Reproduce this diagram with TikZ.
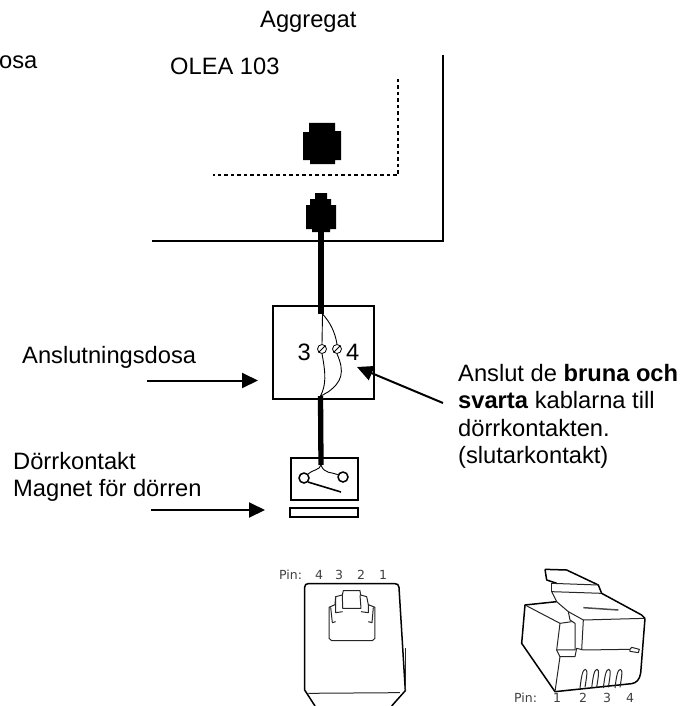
\documentclass[tikz,border=0pt]{standalone}
\usepackage{fontspec}
\setmainfont{Liberation Sans}
\newfontfamily\pinfont{DejaVu Sans}
\usetikzlibrary{shapes,arrows.meta,positioning}

\tikzset{
    label/.style={anchor=base west, inner sep=0pt, font=\fontsize{23.7}{27.4}\selectfont},
    pinlabel/.style={inner sep=0pt, text=black!75, font=\pinfont\fontsize{12.5}{13}\selectfont},
    frame/.style={line width=1.3pt},
    hatchdot/.style={line width=1.6pt, dash pattern=on 3.5pt off 3pt},
    cable/.style={line width=5.3pt},
    wire/.style={line width=0.9pt},
    pointer/.style={line width=2pt, -{Triangle[length=16pt,width=15pt]}},
    screw/.style={circle, draw, line width=0.8pt, minimum size=9pt, inner sep=0pt},
    term/.style={circle, draw, line width=1.5pt, minimum size=10pt, inner sep=0pt},
    digit/.style={inner sep=0pt, font=\fontsize{23.7}{24}\selectfont},
    sketch/.style={line width=1pt, line join=round, black!85},
    sketchbold/.style={line width=1.5pt, line join=round},
}

\begin{document}
\begin{tikzpicture}[x=1pt, y=-1pt]
    \useasboundingbox (0,0) rectangle (695,706);

    \node (aggregat) [label] at (260,28) {Aggregat};
    \node (dosatext) [label] at (-1,69) {osa};
    \node (olea) [label] at (170,75) {OLEA 103};
    \node (anslutning) [label] at (22,363) {Anslutningsdosa};
    \node (dorrtext) [label] at (13,469) {Dörrkontakt};
    \node (magnettext) [label] at (13,496) {Magnet för dörren};
    \node (anslut) [label, align=left, anchor=north west] at (458,364) {Anslut de \textbf{bruna och}\\\textbf{svarta} kablarna till\\dörrkontakten.\\(slutarkontakt)};

    % aggregat frame and inner dotted part
    \draw [frame] (443,55) -- (443,241) -- (152,241);
    \draw [hatchdot] (398,79) -- (398,175) -- (213,175);

    % jack and plug
    \fill (303,132) -- (309,132) -- (309,123) -- (335,123) -- (335,131) -- (341,131) -- (341,160) -- (335,160) -- (335,164) -- (310,164) -- (310,160) -- (303,160) -- cycle;
    \fill (315,193) -- (327,193) -- (327,199) -- (331,199) -- (331,205) -- (336,205) -- (336,229) -- (330,229) -- (330,232) -- (312,232) -- (312,229) -- (306,229) -- (306,205) -- (310,205) -- (310,199) -- (315,199) -- cycle;
    \coordinate (plugfoot) at (321,231);

    % boxes
    \node (dosa) [rectangle, draw, line width=1.3pt, minimum width=101pt, minimum height=93pt] at (323.5,352.5) {};
    \node (kontakt) [rectangle, draw, line width=1.3pt, minimum width=67pt, minimum height=42pt] at (324.5,479) {};
    \node (magnet) [rectangle, draw, line width=1.3pt, minimum width=68pt, minimum height=9pt] at (324,512.5) {};

    % screws and numbers
    \node (screwthree) [screw] at (322,349) {};
    \node (screwfour) [screw] at (337,349) {};
    \draw [wire] (screwthree.north east) -- (screwthree.south west);
    \draw [wire] (screwfour.north east) -- (screwfour.south west);
    \node (three) [digit, left=6pt of screwthree, yshift=-3pt] {3};
    \node (four) [digit, right=4pt of screwfour, yshift=-3pt] {4};

    % cables
    \coordinate (cabletop) at (321,314);
    \coordinate (cablemid) at (320.5,396);
    \coordinate (cableend) at (321,465);
    \draw [cable] (plugfoot) -- (cabletop);
    \draw [cable] (cablemid) -- (cableend);

    % wires inside the boxes
    \draw [wire] (cabletop) ++(1.5,0) -- (screwthree.north);
    \draw [wire] (screwthree.south) .. controls (326,375) and (326,385) .. (cablemid);
    \draw [wire] (cabletop) ++(1.5,0) .. controls (330,322) and (335,332) .. (screwfour.north);
    \draw [wire] (screwfour.south) .. controls (345,372) and (342,382) .. (328,392) .. controls (324,394) and (322,396) .. (cablemid);

    % door contact
    \node (termleft) [term] at (304,478) {};
    \node (termright) [term] at (343,477) {};
    \draw [wire] (cableend) .. controls (320,470) and (312,470) .. (termleft);
    \draw [wire] (cableend) .. controls (324,474) and (332,472) .. (termright);
    \coordinate (switchend) at (341,492);
    \draw [line width=1.6pt] (termleft.south east) -- (switchend);

    % arrows
    \coordinate (dosafrom) at (147,380.5);
    \coordinate (dosatip) at (258,380.5);
    \coordinate (magnetfrom) at (151,510);
    \coordinate (magnettip) at (265,510);
    \coordinate (ansluttail) at (443,403);
    \coordinate (anslutpin) at (357,367);
    \draw [pointer] (dosafrom) -- (dosatip);
    \draw [pointer] (magnetfrom) -- (magnettip);
    \draw [pointer] (ansluttail) -- (anslutpin);

    % jack seen from the front
    \node (pinjack) [pinlabel, anchor=west] at (279,575) {Pin:};
    \foreach \pinname/\pinx in {4/319, 3/339, 2/361, 1/383}
        \node (jack\pinname) [pinlabel] at (\pinx,575) {\pinname};
    \begin{scope}[shift={(300,570)}, x=0.3333pt, y=-0.3333pt]
        \draw [sketchbold] (45,408) -- (14,360) -- (14,52) .. controls (14,44) and (18,41) .. (25,41) -- (285,41) .. controls (292,41) and (296,44) .. (297,52) -- (316,362) -- (275,408);
        \draw [sketch] (25,370) -- (300,368);
        \draw [sketch] (316,235) -- (316,362);
        \draw [sketch] (87,112) -- (87,205) -- (95,212) -- (217,212) -- (225,205) -- (225,112) -- (205,104) -- (200,80) -- (182,75) -- (180,62) -- (130,62) -- (127,75) -- (107,80) -- (105,104) -- cycle;
        \draw [sketch] (127,75) -- (128,115) -- (183,115) -- (180,75);
        \draw [sketch] (107,80) -- (107,128) -- (128,125);
        \draw [sketch] (205,104) -- (205,128) -- (183,125);
        \draw [sketch] (92,112) -- (97,158) -- (107,155);
        \draw [sketch] (220,112) -- (216,158) -- (205,155);
    \end{scope}

    % plug
    \node (pinplug) [pinlabel, anchor=west] at (514,698) {Pin:};
    \foreach \pinname/\pinx in {1/557, 2/583, 3/607, 4/630}
        \node (plug\pinname) [pinlabel] at (\pinx,698) {\pinname};
    \begin{scope}[shift={(520,560)}, x=0.3333pt, y=-0.3333pt]
        \draw [sketchbold] (110,125) -- (15,135) -- (5,250) -- (105,395) -- (335,371) .. controls (350,368) and (358,360) .. (362,340) -- (375,175);
        \draw [sketch] (15,135) -- (120,190) -- (155,185);
        \draw [sketch] (105,395) -- (120,290) -- (165,290) -- (170,265) -- (190,270) -- (330,268) -- (335,262) -- (358,268) -- (355,278) -- (330,274) -- (330,268);
        \draw [sketch] (120,190) -- (110,270) -- (120,290);
        \draw [sketch] (110,270) -- (165,270) -- (165,190) -- (150,180) -- (145,155) -- (110,125) -- (95,95) -- (245,100);
        \draw [sketch] (145,155) -- (190,180) -- (375,175);
        \draw [sketch] (190,180) -- (185,270);
        \draw [sketchbold] (75,28) -- (140,30) -- (235,75) -- (245,100) -- (365,165) -- (375,175);
        \draw [sketchbold] (75,28) -- (80,60) -- (110,70);
        \draw [sketch] (95,70) -- (235,75);
        \draw [sketch] (95,70) -- (95,95);
        \draw [line width=1.5pt, black!70] (190,143) -- (295,150);
        \foreach \pinx in {0,35,70,105}
            \draw [sketch] (\pinx+180,384) .. controls (\pinx+184,350) and (\pinx+188,328) .. (\pinx+196,328) .. controls (\pinx+204,328) and (\pinx+200,350) .. (\pinx+195,382);
    \end{scope}
\end{tikzpicture}
\end{document}
